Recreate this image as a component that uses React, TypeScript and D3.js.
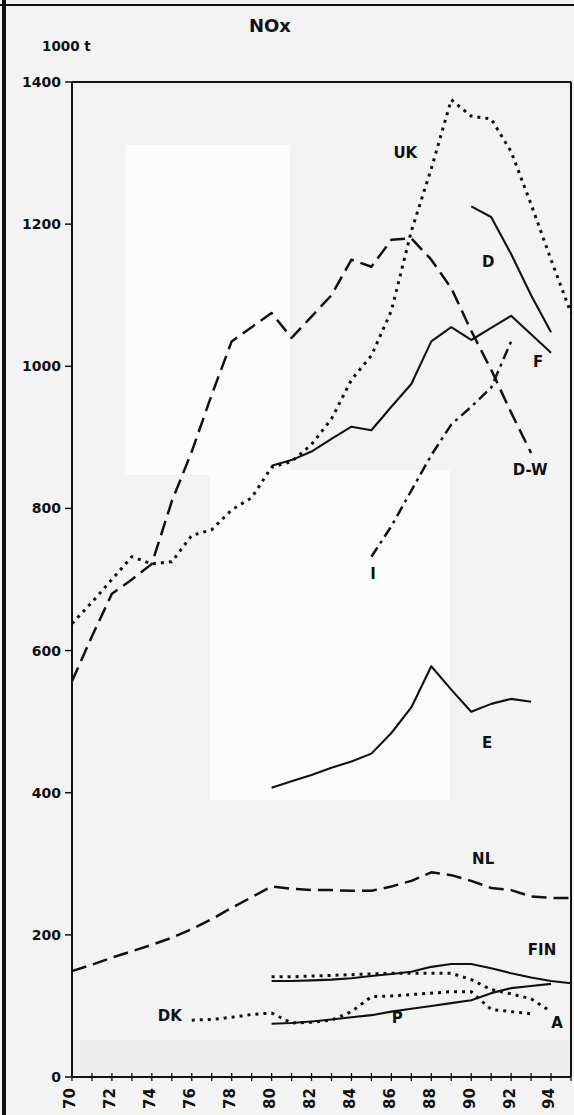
import React from 'react';
import * as d3 from 'd3';

// ---- data (1000 t NOx) ----
const yTickValues = [0, 200, 400, 600, 800, 1000, 1200, 1400];
const xTickYears = [70, 71, 72, 73, 74, 75, 76, 77, 78, 79, 80, 81, 82, 83, 84, 85, 86, 87, 88, 89, 90, 91, 92, 93, 94, 95];
const xLabelYears = [70, 72, 74, 76, 78, 80, 82, 84, 86, 88, 90, 92, 94];

const ukYears = [70, 71, 72, 73, 74, 75, 76, 77, 78, 79, 80, 81, 82, 83, 84, 85, 86, 87, 88, 89, 90, 91, 92, 93, 94, 95];
const ukValues = [638, 668, 700, 732, 722, 725, 762, 770, 798, 815, 858, 866, 890, 926, 981, 1015, 1078, 1190, 1278, 1375, 1352, 1348, 1302, 1228, 1150, 1075];

const dwYears = [70, 71, 72, 73, 74, 75, 76, 77, 78, 79, 80, 81, 82, 83, 84, 85, 86, 87, 88, 89, 90, 91, 92, 93];
const dwValues = [557, 620, 680, 700, 722, 810, 880, 960, 1035, 1055, 1075, 1040, 1070, 1100, 1150, 1140, 1178, 1180, 1150, 1110, 1050, 995, 935, 878];

const iYears = [85, 86, 87, 88, 89, 90, 91, 92];
const iValues = [732, 775, 825, 875, 918, 943, 970, 1035];

const fYears = [80, 81, 82, 83, 84, 85, 86, 87, 88, 89, 90, 91, 92, 93, 94];
const fValues = [860, 868, 880, 898, 915, 910, 943, 975, 1035, 1055, 1037, 1054, 1071, 1045, 1019];

const dYears = [90, 91, 92, 93, 94];
const dValues = [1225, 1210, 1158, 1100, 1048];

const eYears = [80, 81, 82, 83, 84, 85, 86, 87, 88, 89, 90, 91, 92, 93];
const eValues = [407, 416, 425, 435, 444, 455, 484, 520, 578, 545, 514, 525, 532, 528];

const nlYears = [70, 71, 72, 73, 74, 75, 76, 77, 78, 79, 80, 81, 82, 83, 84, 85, 86, 87, 88, 89, 90, 91, 92, 93, 94, 95];
const nlValues = [149, 158, 168, 177, 186, 196, 208, 222, 238, 253, 268, 265, 263, 263, 262, 262, 268, 276, 288, 284, 276, 266, 263, 254, 252, 252];

const finYears = [80, 81, 82, 83, 84, 85, 86, 87, 88, 89, 90, 91, 92, 93, 94, 95];
const finValues = [135, 135, 136, 137, 139, 142, 145, 148, 155, 159, 159, 153, 146, 140, 135, 132];

const pYears = [80, 81, 82, 83, 84, 85, 86, 87, 88, 89, 90, 91, 92, 93, 94];
const pValues = [75, 76, 78, 81, 84, 87, 92, 96, 100, 104, 108, 118, 125, 128, 131];

const dkYears = [76, 77, 78, 79, 80, 81, 82, 83, 84, 85, 86, 87, 88, 89, 90, 91, 92, 93];
const dkValues = [80, 81, 84, 88, 90, 76, 77, 80, 92, 113, 114, 116, 118, 120, 120, 95, 92, 89];

const aYears = [80, 81, 82, 83, 84, 85, 86, 87, 88, 89, 90, 91, 92, 93, 94];
const aValues = [141, 141, 142, 143, 144, 145, 146, 146, 146, 146, 137, 123, 117, 110, 92];

// label anchors (year, value)
const labelNames = ['UK', 'D', 'F', 'D-W', 'I', 'E', 'NL', 'FIN', 'DK', 'P', 'A'];
const labelYears = [86.7, 90.85, 93.35, 92.95, 85.08, 90.8, 90.6, 93.55, 74.9, 86.3, 94.3];
const labelValues = [1300, 1147, 1006, 854, 709, 471, 308, 179, 86, 84, 76];

type Style = { dash?: string; width: number };
const DOT: Style = { dash: '3 5', width: 3 };
const DASH: Style = { dash: '15 7', width: 2.5 };
const SOLID: Style = { width: 2.1 };
const DASHDOT: Style = { dash: '11 5 3 5', width: 2.5 };

const seriesList: { years: number[]; values: number[]; style: Style }[] = [
  { years: ukYears, values: ukValues, style: DOT },
  { years: dwYears, values: dwValues, style: DASH },
  { years: iYears, values: iValues, style: DASHDOT },
  { years: fYears, values: fValues, style: SOLID },
  { years: dYears, values: dValues, style: SOLID },
  { years: eYears, values: eValues, style: SOLID },
  { years: nlYears, values: nlValues, style: DASH },
  { years: finYears, values: finValues, style: SOLID },
  { years: pYears, values: pValues, style: SOLID },
  { years: dkYears, values: dkValues, style: DOT },
  { years: aYears, values: aValues, style: DOT },
];

const W = 574;
const H = 1115;
const FONT = "'DejaVu Sans', sans-serif";
const INK = '#111';

export default function App() {
  const x = d3.scaleLinear().domain([70, 95]).range([72, 571]);
  const y = d3.scaleLinear().domain([0, 1400]).range([1077, 82]);
  const line = d3
    .line<[number, number]>()
    .x((d) => x(d[0]))
    .y((d) => y(d[1]));

  const x0 = x(70);
  const x1 = x(95);
  const y0 = y(0);
  const yTop = y(1400);

  return (
    <svg
      width={W}
      height={H}
      viewBox={`0 0 ${W} ${H}`}
      style={{ position: 'absolute', left: 0, top: 0, display: 'block' }}
    >
      <rect x={0} y={0} width={W} height={H} fill="#f3f3f3" />
      <rect x={125} y={145} width={165} height={330} fill="#fbfbfb" />
      <rect x={210} y={470} width={240} height={330} fill="#fbfbfb" />
      <rect x={72} y={1040} width={499} height={37} fill="#eeeeee" />
      {/* outer frame */}
      <line x1={4} y1={0} x2={4} y2={H} stroke={INK} strokeWidth={4} />
      <line x1={0} y1={5} x2={W} y2={5} stroke={INK} strokeWidth={2} />

      {/* title */}
      <text x={270} y={32} fontFamily={FONT} fontWeight="bold" fontSize={18} fill={INK} textAnchor="middle">
        NOx
      </text>
      <text x={42} y={51} fontFamily={FONT} fontWeight="bold" fontSize={13.5} fill={INK}>
        1000 t
      </text>

      {/* plot frame */}
      <line x1={x0} y1={yTop} x2={x1} y2={yTop} stroke={INK} strokeWidth={2} />
      <line x1={x1} y1={yTop} x2={x1} y2={y0} stroke={INK} strokeWidth={2} />
      <line x1={x0} y1={yTop} x2={x0} y2={y0} stroke={INK} strokeWidth={2} />
      <line x1={x0} y1={y0} x2={x1} y2={y0} stroke={INK} strokeWidth={2.2} />

      {/* y ticks */}
      {yTickValues.map((v) => (
        <g key={`yt${v}`}>
          <line x1={x0 - 7} y1={y(v)} x2={x0} y2={y(v)} stroke={INK} strokeWidth={1.5} />
          <text
            x={x0 - 11}
            y={y(v)}
            dy="0.36em"
            textAnchor="end"
            fontFamily={FONT}
            fontWeight="bold"
            fontSize={14}
            fill={INK}
          >
            {v}
          </text>
        </g>
      ))}

      {/* x ticks */}
      {xTickYears.map((yr) => (
        <line key={`xt${yr}`} x1={x(yr)} y1={y0 - 4} x2={x(yr)} y2={y0 + 4} stroke={INK} strokeWidth={1.3} />
      ))}
      {xLabelYears.map((yr) => (
        <text
          key={`xl${yr}`}
          transform={`translate(${x(yr) - 2},${y0 + 11}) rotate(-90)`}
          dy="0.36em"
          textAnchor="end"
          fontFamily={FONT}
          fontWeight="bold"
          fontSize={15}
          fill={INK}
        >
          {yr}
        </text>
      ))}

      {/* series */}
      {seriesList.map((s, i) => (
        <path
          key={`s${i}`}
          d={line(s.years.map((yr, k) => [yr, s.values[k]] as [number, number])) || ''}
          fill="none"
          stroke={INK}
          strokeWidth={s.style.width}
          strokeDasharray={s.style.dash}
          strokeLinecap="butt"
          strokeLinejoin="round"
        />
      ))}

      {/* labels */}
      {labelNames.map((name, i) => (
        <text
          key={`lb${name}`}
          x={x(labelYears[i])}
          y={y(labelValues[i])}
          dy="0.36em"
          textAnchor="middle"
          fontFamily={FONT}
          fontWeight="bold"
          fontSize={15}
          fill={INK}
        >
          {name}
        </text>
      ))}
    </svg>
  );
}
